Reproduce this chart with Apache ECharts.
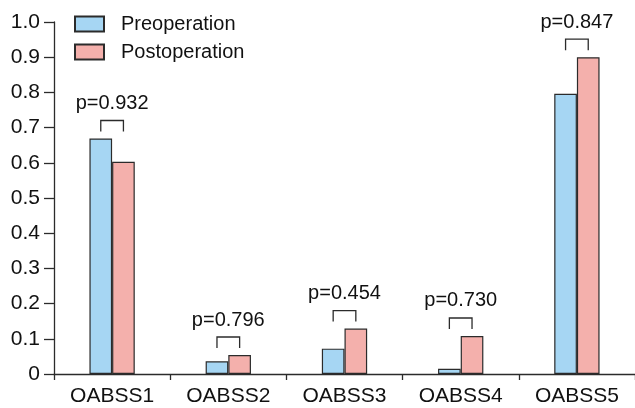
<!DOCTYPE html>
<html>
<head>
<meta charset="utf-8">
<script src="https://cdn.jsdelivr.net/npm/echarts@6/dist/echarts.min.js"></script>
<style>
  html, body { margin: 0; padding: 0; background: #fff; }
  #chart { width: 635px; height: 408px; }
</style>
</head>
<body>
<div id="chart"></div>
<script>
// OABSS scores before and after the operation, with p-values per item
const categories = ['OABSS1', 'OABSS2', 'OABSS3', 'OABSS4', 'OABSS5'];
const preValues = [0.669, 0.036, 0.072, 0.015, 0.796];
const postValues = [0.603, 0.054, 0.129, 0.108, 0.900];
const pValues = ['0.932', '0.796', '0.454', '0.730', '0.847'];
const seriesNames = ['Preoperation', 'Postoperation'];

const FONT = 'Liberation Sans, Arial, sans-serif';
const INK = '#2b2b2b';
const BAR_PCT = 0.195;

const chart = echarts.init(document.getElementById('chart'), null, { renderer: 'canvas' });

// bracket + p-value label above each pair of bars
function renderBracket(params, api) {
  const idx = api.value(0);
  const top = api.value(1);
  const base = api.coord([idx, top]);
  const band = api.size([1, 0])[0];
  const half = band * BAR_PCT / 2;
  const xl = base[0] - half;
  const xr = base[0] + half;
  const yTop = base[1] - 18;
  const yLeg = base[1] - 7;
  return {
    type: 'group',
    children: [
      {
        type: 'polyline',
        shape: { points: [[xl, yLeg], [xl, yTop], [xr, yTop], [xr, yLeg]] },
        style: { stroke: INK, lineWidth: 1.3, fill: null }
      },
      {
        type: 'text',
        x: base[0],
        y: yTop - 17,
        style: {
          text: 'p=' + pValues[idx],
          fontFamily: FONT,
          fontSize: 20,
          fill: '#111',
          align: 'center',
          verticalAlign: 'middle'
        }
      }
    ]
  };
}

const option = {
  animation: false,
  backgroundColor: '#fff',
  grid: { left: 54, right: 0, top: 22, bottom: 34 },
  legend: {
    orient: 'vertical',
    left: 74,
    top: 14,
    padding: 0,
    itemWidth: 29,
    itemHeight: 15,
    itemGap: 8,
    icon: 'rect',
    data: seriesNames,
    textStyle: {
      fontFamily: FONT,
      fontSize: 20,
      color: '#111',
      lineHeight: 15,
      padding: [0, 0, 0, 12]
    }
  },
  xAxis: {
    type: 'category',
    data: categories,
    boundaryGap: true,
    axisLine: { lineStyle: { color: INK, width: 1.3 } },
    axisTick: { show: true, length: 6, lineStyle: { color: INK, width: 1.3 } },
    axisLabel: { fontFamily: FONT, fontSize: 21, color: '#111', margin: 12 },
    splitLine: { show: false }
  },
  yAxis: {
    type: 'value',
    min: 0,
    max: 1,
    interval: 0.1,
    axisLine: { show: true, lineStyle: { color: INK, width: 1.3 } },
    axisTick: { show: true, length: 10, lineStyle: { color: INK, width: 1.3 } },
    axisLabel: {
      fontFamily: FONT,
      fontSize: 21,
      color: '#111',
      margin: 14,
      formatter: v => (v === 0 ? '0' : v.toFixed(1))
    },
    splitLine: { show: false }
  },
  series: [
    {
      name: seriesNames[0],
      type: 'bar',
      data: preValues,
      barWidth: (BAR_PCT * 100) + '%',
      barGap: '0%',
      itemStyle: { color: '#a6d6f3', borderColor: INK, borderWidth: 1.2 }
    },
    {
      name: seriesNames[1],
      type: 'bar',
      data: postValues,
      barWidth: (BAR_PCT * 100) + '%',
      barGap: '0%',
      itemStyle: { color: '#f4b0ac', borderColor: INK, borderWidth: 1.2 }
    },
    {
      type: 'custom',
      renderItem: renderBracket,
      data: categories.map((c, i) => [i, Math.max(preValues[i], postValues[i])]),
      z: 5,
      silent: true
    }
  ]
};

chart.setOption(option);
</script>
</body>
</html>
